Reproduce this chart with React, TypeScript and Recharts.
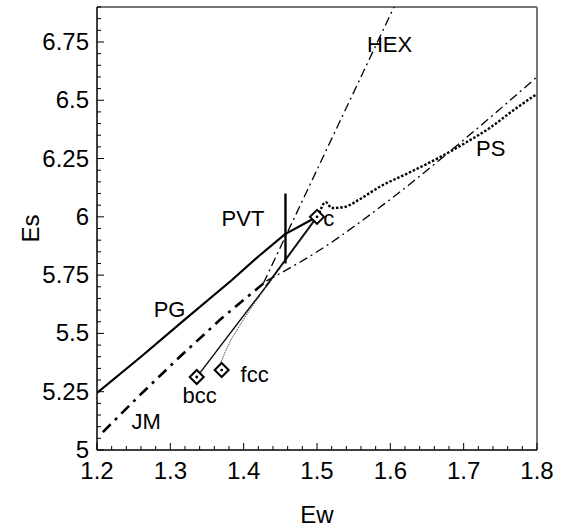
import React from 'react';
import { ComposedChart, Line, Scatter, XAxis, YAxis, ReferenceLine, ReferenceDot } from 'recharts';

const FONT = 'Liberation Sans, Arial, Helvetica, sans-serif';

// tick labels
const xMajorTicks = [1.2, 1.3, 1.4, 1.5, 1.6, 1.7, 1.8];
const yMajorTicks = [5, 5.25, 5.5, 5.75, 6, 6.25, 6.5, 6.75];
const xDomain = [1.2, 1.8];
const yDomain = [5, 6.9];

// series
const pgCurve = [
  { x: 1.2, y: 5.245 }, { x: 1.26, y: 5.4 }, { x: 1.32, y: 5.56 }, { x: 1.384, y: 5.729 },
  { x: 1.42, y: 5.83 }, { x: 1.456, y: 5.925 }, { x: 1.5, y: 6.0 },
];
const jmThick = [
  { x: 1.208, y: 5.077 }, { x: 1.26, y: 5.24 }, { x: 1.313, y: 5.4 }, { x: 1.37, y: 5.565 }, { x: 1.431, y: 5.725 },
];
const jmThin = [
  { x: 1.431, y: 5.725 }, { x: 1.5, y: 5.85 }, { x: 1.6, y: 6.075 }, { x: 1.7, y: 6.33 }, { x: 1.8, y: 6.6 },
];
const hexCurve = [
  { x: 1.427, y: 5.716 }, { x: 1.605, y: 6.9 },
];
const psCurve = [
  { x: 1.503, y: 6.016 }, { x: 1.512, y: 6.063 }, { x: 1.52, y: 6.038 }, { x: 1.537, y: 6.042 },
  { x: 1.558, y: 6.075 }, { x: 1.585, y: 6.128 }, { x: 1.626, y: 6.19 }, { x: 1.667, y: 6.255 },
  { x: 1.701, y: 6.315 }, { x: 1.735, y: 6.38 }, { x: 1.769, y: 6.46 }, { x: 1.8, y: 6.527 },
];
const pvtLine = [
  { x: 1.457, y: 5.8 }, { x: 1.457, y: 6.1 },
];
const bccLower = [
  { x: 1.336, y: 5.313 }, { x: 1.43, y: 5.7 },
];
const bccUpper = [
  { x: 1.43, y: 5.7 }, { x: 1.5, y: 6.0 },
];
const fccLine = [
  { x: 1.37, y: 5.343 }, { x: 1.369, y: 5.377 }, { x: 1.376, y: 5.429 }, { x: 1.384, y: 5.48 },
  { x: 1.408, y: 5.6 }, { x: 1.433, y: 5.708 }, { x: 1.5, y: 6.0 },
];
const markerPoints = [
  { x: 1.336, y: 5.313 }, { x: 1.37, y: 5.343 }, { x: 1.5, y: 6.0 },
];
const curveLabels = [
  { text: 'HEX', x: 1.599, y: 6.741 },
  { text: 'PS', x: 1.737, y: 6.295 },
  { text: 'PVT', x: 1.399, y: 5.995 },
  { text: 'c', x: 1.516, y: 5.995 },
  { text: 'PG', x: 1.299, y: 5.605 },
  { text: 'bcc', x: 1.34, y: 5.236 },
  { text: 'fcc', x: 1.415, y: 5.326 },
  { text: 'JM', x: 1.267, y: 5.124 },
];

const xAllTicks: number[] = [];
for (let k = 0; k <= 30; k++) xAllTicks.push(Math.round((1.2 + 0.02 * k) * 100) / 100);
const yAllTicks: number[] = [];
for (let k = 0; k <= 38; k++) yAllTicks.push(Math.round((5 + 0.05 * k) * 100) / 100);

const isMajor = (list: number[], v: number) => list.some((t) => Math.abs(t - v) < 1e-6);

const XTick = (props: any) => {
  const { x, y, payload } = props;
  const v = payload.value;
  const major = isMajor(xMajorTicks, v);
  return (
    <g>
      <line x1={x} y1={y} x2={x} y2={y - (major ? 7 : 4)} stroke="#000" strokeWidth={1} />
      {major && (
        <text x={x} y={y + 29} textAnchor="middle" fontSize={24} fontFamily={FONT} fill="#000">
          {String(v)}
        </text>
      )}
    </g>
  );
};

const YTick = (props: any) => {
  const { x, y, payload } = props;
  const v = payload.value;
  const major = isMajor(yMajorTicks, v);
  return (
    <g>
      <line x1={x} y1={y} x2={x + (major ? 7 : 4)} y2={y} stroke="#000" strokeWidth={1} />
      {major && (
        <text x={x - 8} y={y + 8} textAnchor="end" fontSize={24} fontFamily={FONT} fill="#000">
          {String(v)}
        </text>
      )}
    </g>
  );
};

const Diamond = (props: any) => {
  const { cx, cy } = props;
  const r = 7;
  return (
    <g>
      <path d={`M${cx},${cy - r} L${cx + r},${cy} L${cx},${cy + r} L${cx - r},${cy} Z`} fill="#fff" stroke="#000" strokeWidth={2} />
      <circle cx={cx} cy={cy} r={1.4} fill="#000" />
    </g>
  );
};

export default function App() {
  return (
    <div style={{ position: 'absolute', left: 0, top: 0, background: '#fff' }}>
      <ComposedChart width={566} height={529} margin={{ top: 7, right: 29, bottom: 0, left: 0 }}>
        <XAxis
          type="number"
          dataKey="x"
          domain={xDomain}
          allowDataOverflow
          ticks={xAllTicks}
          interval={0}
          tick={XTick}
          tickLine={false}
          tickSize={0}
          tickMargin={0}
          height={79}
          axisLine={{ stroke: '#000', strokeWidth: 1.5 }}
          label={{
            content: (p: any) => {
              const vb = p.viewBox;
              return (
                <text x={vb.x + vb.width / 2} y={523} textAnchor="middle" fontSize={24} fontFamily={FONT} fill="#000">
                  Ew
                </text>
              );
            },
          }}
        />
        <YAxis
          type="number"
          dataKey="y"
          domain={yDomain}
          allowDataOverflow
          ticks={yAllTicks}
          interval={0}
          tick={YTick}
          tickLine={false}
          tickSize={0}
          tickMargin={0}
          width={97}
          axisLine={{ stroke: '#000', strokeWidth: 1.5 }}
          label={{
            content: (p: any) => {
              const vb = p.viewBox;
              const cy = vb.y + vb.height / 2;
              return (
                <text transform={`translate(39, ${cy}) rotate(-90)`} textAnchor="middle" fontSize={24} fontFamily={FONT} fill="#000">
                  Es
                </text>
              );
            },
          }}
        />
        <ReferenceLine y={6.9} stroke="#777" strokeWidth={2} />
        <ReferenceLine x={1.8} stroke="#777" strokeWidth={2} />

        <Line data={hexCurve} dataKey="y" type="linear" stroke="#000" strokeWidth={1.3} strokeDasharray="9 4 2 4" dot={false} isAnimationActive={false} />
        <Line data={jmThin} dataKey="y" type="monotone" stroke="#000" strokeWidth={1.3} strokeDasharray="9 4 2 4" dot={false} isAnimationActive={false} />
        <Line data={jmThick} dataKey="y" type="linear" stroke="#000" strokeWidth={2.6} strokeDasharray="11 6 3 6" dot={false} isAnimationActive={false} />
        <Line data={psCurve} dataKey="y" type="monotone" stroke="#000" strokeWidth={2.4} strokeDasharray="2.5 1.8" dot={false} isAnimationActive={false} />
        <Line data={pgCurve} dataKey="y" type="linear" stroke="#000" strokeWidth={2.2} dot={false} isAnimationActive={false} />
        <Line data={pvtLine} dataKey="y" type="linear" stroke="#000" strokeWidth={2.4} dot={false} isAnimationActive={false} />
        <Line data={bccLower} dataKey="y" type="linear" stroke="#000" strokeWidth={1.3} dot={false} isAnimationActive={false} />
        <Line data={bccUpper} dataKey="y" type="linear" stroke="#000" strokeWidth={1.9} dot={false} isAnimationActive={false} />
        <Line data={fccLine} dataKey="y" type="linear" stroke="#333" strokeWidth={1} strokeDasharray="1.2 1" dot={false} isAnimationActive={false} />
        <Scatter data={markerPoints} dataKey="y" shape={Diamond} isAnimationActive={false} />

        {curveLabels.map((l) => (
          <ReferenceDot
            key={l.text}
            x={l.x}
            y={l.y}
            r={1}
            shape={(p: any) => (
              <text x={p.cx} y={p.cy + 8} textAnchor="middle" fontSize={22} fontFamily={FONT} fill="#000">
                {l.text}
              </text>
            )}
          />
        ))}
      </ComposedChart>
    </div>
  );
}
